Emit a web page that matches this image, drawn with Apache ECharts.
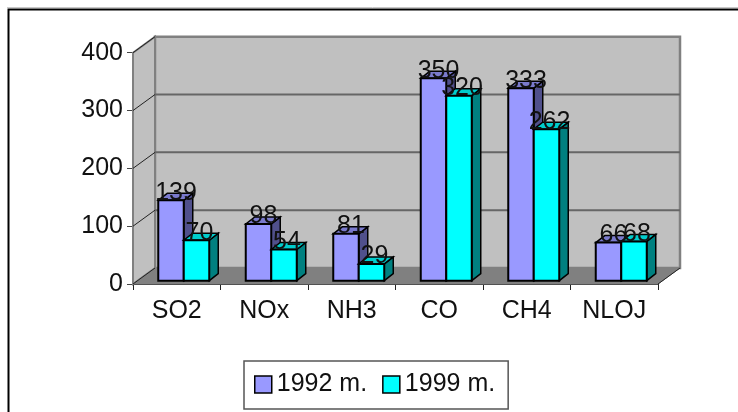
<!DOCTYPE html>
<html>
<head>
<meta charset="utf-8">
<title>Chart</title>
<script src="https://cdn.jsdelivr.net/npm/echarts@6/dist/echarts.min.js"></script>
<style>
html, body { margin: 0; padding: 0; background: #fff; }
#chart { width: 738px; height: 412px; }
</style>
</head>
<body>
<div id="chart"></div>
<script>
const categories = ['SO2', 'NOx', 'NH3', 'CO', 'CH4', 'NLOJ'];
const values1992 = [139, 98, 81, 350, 333, 66];
const values1999 = [70, 54, 29, 320, 262, 68];
const yTicks = [0, 100, 200, 300, 400];

const FONT = '"Liberation Sans", Arial, sans-serif';
// depth of the fake 3D walls and of the bars
const WALL_DX = 22, WALL_DY = 16;
const BAR_DX = 9, BAR_DY = 7;
const BAR_W = 25.5, BAR_SHIFT = 7, BAR_LIFT = 3.3;

const myChart = echarts.init(document.getElementById('chart'));

function poly(points, fill, stroke, lineWidth) {
    return {
        type: 'polygon',
        shape: { points: points },
        style: { fill: fill, stroke: stroke, lineWidth: lineWidth }
    };
}

function renderWalls(params) {
    const c = params.coordSys;
    const l = c.x, r = c.x + c.width, t = c.y, b = c.y + c.height;
    return {
        type: 'group',
        children: [
            poly([[l + WALL_DX, t - WALL_DY], [r + WALL_DX, t - WALL_DY], [r + WALL_DX, b - WALL_DY], [l + WALL_DX, b - WALL_DY]], '#c0c0c0', '#808080', 2.5),
            poly([[l, t], [l + WALL_DX, t - WALL_DY], [l + WALL_DX, b - WALL_DY], [l, b]], '#c0c0c0', '#808080', 2),
            poly([[l, b], [r, b], [r + WALL_DX, b - WALL_DY], [l + WALL_DX, b - WALL_DY]], '#808080', '#808080', 1)
        ]
    };
}

function renderGridLine(params, api) {
    const c = params.coordSys;
    const y = api.coord([0, api.value(0)])[1];
    const l = c.x, r = c.x + c.width;
    const children = [{
        type: 'line',
        shape: { x1: l, y1: y, x2: l + WALL_DX, y2: y - WALL_DY },
        style: { stroke: '#222', lineWidth: 1 }
    }];
    if (api.value(0) > 0 && api.value(0) < 400) {
        children.push({
            type: 'line',
            shape: { x1: l + WALL_DX, y1: y - WALL_DY, x2: r + WALL_DX, y2: y - WALL_DY },
            style: { stroke: '#666', lineWidth: 2 }
        });
    }
    if (api.value(0) === 0) {
        children.push({
            type: 'line',
            shape: { x1: r, y1: y, x2: r + WALL_DX, y2: y - WALL_DY },
            style: { stroke: '#222', lineWidth: 1 }
        });
    }
    return { type: 'group', children: children };
}

function barRenderer(side, front, topColor, sideColor) {
    return function (params, api) {
        const center = api.coord([api.value(0), 0]);
        const h = api.size([0, api.value(1)])[1];
        const x0 = center[0] + BAR_SHIFT + (side < 0 ? -BAR_W : 0);
        const x1 = x0 + BAR_W;
        const yb = center[1] - BAR_LIFT;
        const yt = yb - h;
        return {
            type: 'group',
            children: [
                poly([[x1, yt], [x1 + BAR_DX, yt - BAR_DY], [x1 + BAR_DX, yb - BAR_DY], [x1, yb]], sideColor, '#000', 1.5),
                poly([[x0, yt], [x0 + BAR_DX, yt - BAR_DY], [x1 + BAR_DX, yt - BAR_DY], [x1, yt]], topColor, '#000', 1.5),
                poly([[x0, yt], [x1, yt], [x1, yb], [x0, yb]], front, '#000', 2)
            ]
        };
    };
}

function labelRenderer(side) {
    return function (params, api) {
        const center = api.coord([api.value(0), 0]);
        const h = api.size([0, api.value(1)])[1];
        const x0 = center[0] + BAR_SHIFT + (side < 0 ? -BAR_W : 0);
        return {
            type: 'text',
            style: {
                text: String(api.value(1)),
                x: x0 + BAR_W / 2 + (side < 0 ? 5 : 3),
                y: center[1] - BAR_LIFT - h + 5,
                align: 'center',
                verticalAlign: 'bottom',
                font: '25px ' + FONT,
                fill: '#111'
            }
        };
    };
}

function toRows(arr) {
    return arr.map(function (v, i) { return [i, v]; });
}

const option = {
    animation: false,
    backgroundColor: '#fff',
    grid: { left: 133, right: 80, top: 52.7, bottom: 128 },
    xAxis: {
        type: 'category',
        data: categories,
        axisLine: { lineStyle: { color: '#222', width: 1 } },
        axisTick: { show: true, length: 6, alignWithLabel: false, lineStyle: { color: '#222' } },
        axisLabel: { color: '#111', fontFamily: FONT, fontSize: 25, margin: 15, interval: 0 },
        splitLine: { show: false }
    },
    yAxis: {
        type: 'value',
        min: 0,
        max: 400,
        interval: 100,
        axisLine: { show: true, lineStyle: { color: '#444', width: 1 } },
        axisTick: { show: true, length: 6, lineStyle: { color: '#444' } },
        axisLabel: { color: '#111', fontFamily: FONT, fontSize: 25, margin: 10 },
        splitLine: { show: false }
    },
    legend: {
        data: [
            { name: '1992 m.', icon: 'rect', itemStyle: { color: '#9999ff', borderColor: '#000', borderWidth: 1.5 } },
            { name: '1999 m.', icon: 'rect', itemStyle: { color: '#00ffff', borderColor: '#000', borderWidth: 1.5 } }
        ],
        left: 244,
        top: 361,
        orient: 'horizontal',
        padding: [11, 13, 12, 10],
        itemWidth: 17,
        itemHeight: 17,
        itemGap: 15,
        backgroundColor: '#fff',
        borderColor: '#555',
        borderWidth: 1.5,
        borderRadius: 0,
        selectedMode: false,
        textStyle: { color: '#111', fontFamily: FONT, fontSize: 25 }
    },
    graphic: [
        { type: 'line', silent: true, shape: { x1: 7, y1: 7.5, x2: 738, y2: 7.5 }, style: { stroke: '#c8c8c8', lineWidth: 1 } },
        { type: 'rect', silent: true, shape: { x: 8.5, y: 9.5, width: 800, height: 600 }, style: { fill: 'none', stroke: '#000', lineWidth: 2 } }
    ],
    series: [
        { type: 'custom', name: 'walls', silent: true, z: 1, data: [[0]], renderItem: renderWalls, clip: false },
        { type: 'custom', name: 'grid', silent: true, z: 1, data: yTicks.map(function (v) { return [v]; }), encode: { y: 0 }, renderItem: renderGridLine, clip: false },
        { type: 'custom', name: '1992 m.', silent: true, z: 2, itemStyle: { color: '#9999ff' }, data: toRows(values1992), encode: { x: 0, y: 1 }, renderItem: barRenderer(-1, '#9999ff', '#7a7acc', '#50508c'), clip: false },
        { type: 'custom', name: '1999 m.', silent: true, z: 3, itemStyle: { color: '#00ffff' }, data: toRows(values1999), encode: { x: 0, y: 1 }, renderItem: barRenderer(1, '#00ffff', '#00cccc', '#008080'), clip: false },
        { type: 'custom', name: 'labels 1992', silent: true, z: 4, data: toRows(values1992), encode: { x: 0, y: 1 }, renderItem: labelRenderer(-1), clip: false },
        { type: 'custom', name: 'labels 1999', silent: true, z: 4, data: toRows(values1999), encode: { x: 0, y: 1 }, renderItem: labelRenderer(1), clip: false }
    ]
};

myChart.setOption(option);
</script>
</body>
</html>
